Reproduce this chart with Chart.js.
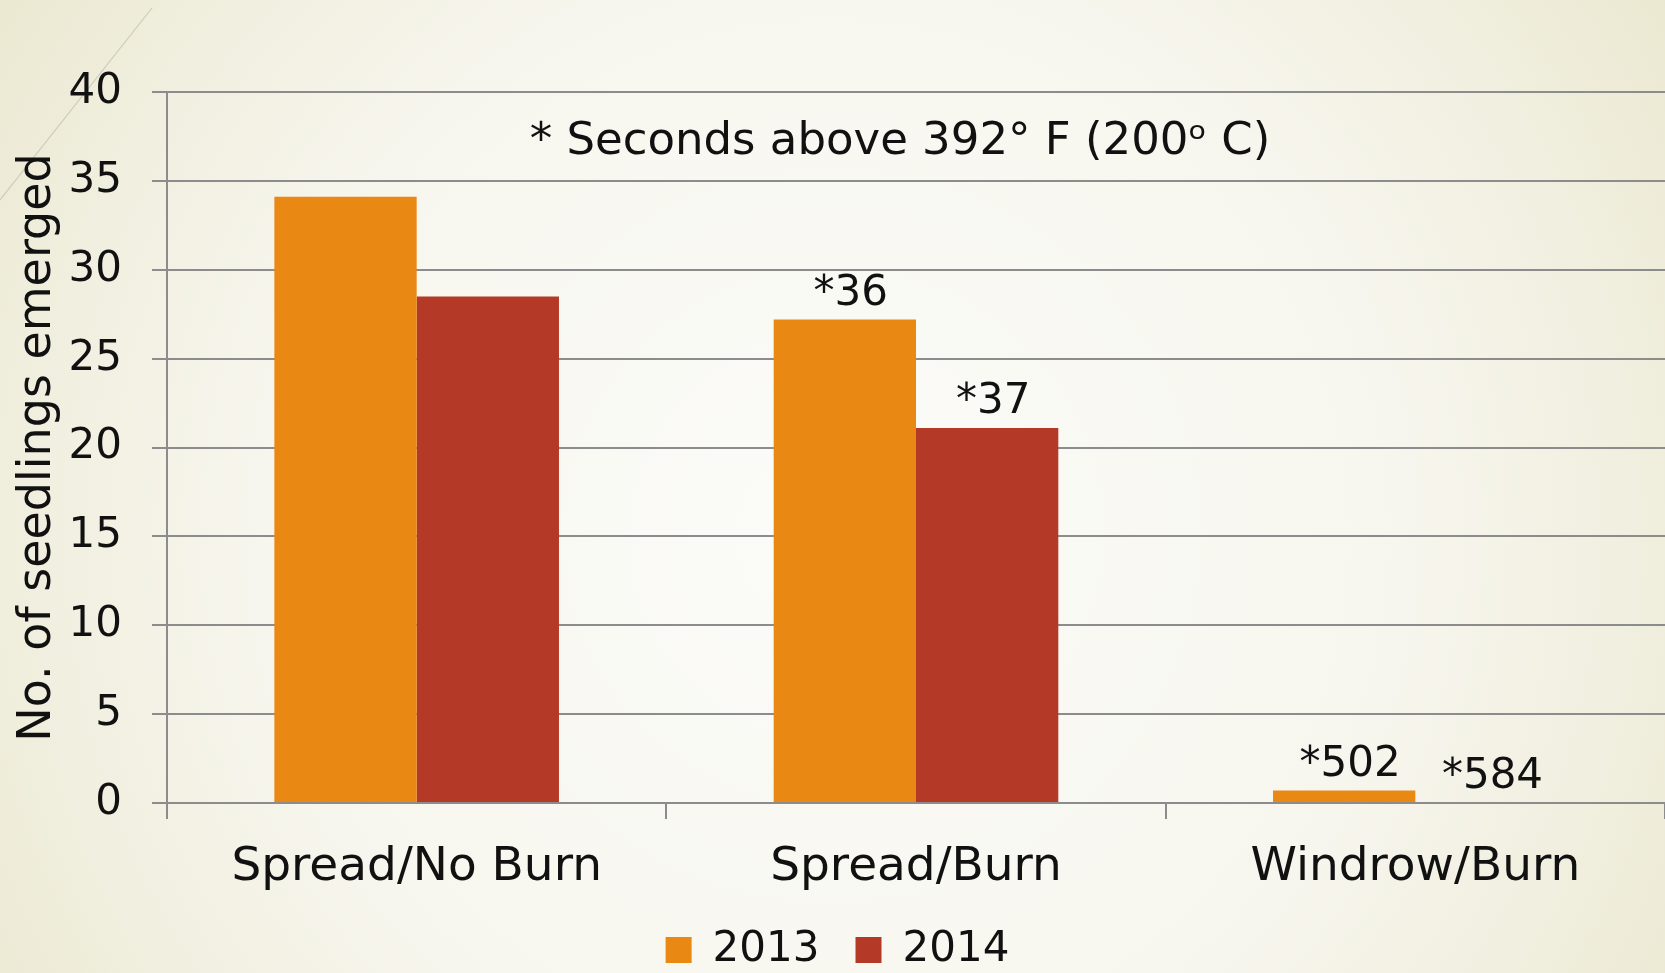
<!DOCTYPE html>
<html>
<head>
<meta charset="utf-8">
<script src="https://cdn.jsdelivr.net/npm/chart.js"></script>
<style>
  html, body { margin: 0; padding: 0; background: #f6f5ec; }
  #wrap { width: 1665px; height: 973px; position: relative; }
</style>
</head>
<body>
<div id="wrap"><canvas id="seedChart"></canvas></div>
<script>
// 차트 데이터
const categories = ['Spread/No Burn', 'Spread/Burn', 'Windrow/Burn'];
const seedlings2013 = [34.1, 27.2, 0.7];
const seedlings2014 = [28.5, 21.1, 0];
const notes2013 = ['', '*36', '*502'];
const notes2014 = ['', '*37', '*584'];
const yTicks = [0, 5, 10, 15, 20, 25, 30, 35, 40];
const noteTitle = '* Seconds above 392° F (200ᵒ C)';

const FONT = 'DejaVu Sans';

// 배경 (슬라이드 그라데이션)
const bgPlugin = {
  id: 'bg',
  beforeDraw(chart) {
    const c = chart.ctx;
    const w = chart.width, h = chart.height;
    c.save();
    const g = c.createRadialGradient(w * 0.5, h * 0.55, 50, w * 0.5, h * 0.55, w * 0.6);
    g.addColorStop(0, '#fbfbf8');
    g.addColorStop(0.55, '#f7f6ee');
    g.addColorStop(1, '#ebe8d1');
    c.fillStyle = g;
    c.fillRect(0, 0, w, h);
    // 왼쪽 위 장식선
    c.strokeStyle = 'rgba(190,190,170,0.7)';
    c.lineWidth = 1.2;
    c.beginPath();
    c.moveTo(152, 8);
    c.lineTo(0, 200);
    c.stroke();
    c.restore();
  }
};

// 막대 위 주석 + 안쪽 제목
const notePlugin = {
  id: 'notes',
  afterDatasetsDraw(chart) {
    const c = chart.ctx;
    c.save();
    c.fillStyle = '#111';
    c.textAlign = 'center';
    c.textBaseline = 'alphabetic';
    c.font = '42px "' + FONT + '"';
    const noteSets = [notes2013, notes2014];
    chart.data.datasets.forEach((ds, i) => {
      const meta = chart.getDatasetMeta(i);
      meta.data.forEach((bar, j) => {
        const txt = noteSets[i][j];
        if (txt) c.fillText(txt, bar.x + 6, bar.y - 15);
      });
    });
    const yS = chart.scales.y;
    c.font = '45px "' + FONT + '"';
    c.fillText(noteTitle, 900, yS.getPixelForValue(37.4) + 16);
    c.restore();
  }
};

const ctx = document.getElementById('seedChart').getContext('2d');
new Chart(ctx, {
  type: 'bar',
  data: {
    labels: categories,
    datasets: [
      { label: '2013', data: seedlings2013, backgroundColor: '#e98813' },
      { label: '2014', data: seedlings2014, backgroundColor: '#b43a27' }
    ]
  },
  options: {
    responsive: true,
    maintainAspectRatio: false,
    devicePixelRatio: 1,
    animation: false,
    layout: { padding: { top: 92, right: 0, left: 10, bottom: -8 } },
    datasets: { bar: { barPercentage: 1, categoryPercentage: 0.57 } },
    plugins: {
      legend: {
        position: 'bottom',
        labels: {
          boxWidth: 26, boxHeight: 26, padding: 36,
          color: '#111',
          font: { family: FONT, size: 42 }
        }
      },
      tooltip: { enabled: false }
    },
    scales: {
      x: {
        grid: { drawOnChartArea: false, drawTicks: true, tickLength: 16, offset: true, color: '#8c8c8c', lineWidth: 2 },
        border: { color: '#8c8c8c', width: 2 },
        ticks: { color: '#111', padding: 21, font: { family: FONT, size: 47 } },
        afterFit(s) { s.height = 90; }
      },
      y: {
        min: 0, max: 40,
        afterBuildTicks(s) { s.ticks = yTicks.map(v => ({ value: v })); },
        grid: { color: '#8c8c8c', lineWidth: 2, tickLength: 15 },
        border: { color: '#8c8c8c', width: 2 },
        ticks: { color: '#111', padding: 30, font: { family: FONT, size: 42 } },
        title: {
          display: true, text: 'No. of seedlings emerged', color: '#111',
          font: { family: FONT, size: 46 }, padding: { top: 0, bottom: 0 }
        },
        afterFit(s) { s.width = 157; }
      }
    }
  },
  plugins: [bgPlugin, notePlugin]
});
</script>
</body>
</html>
